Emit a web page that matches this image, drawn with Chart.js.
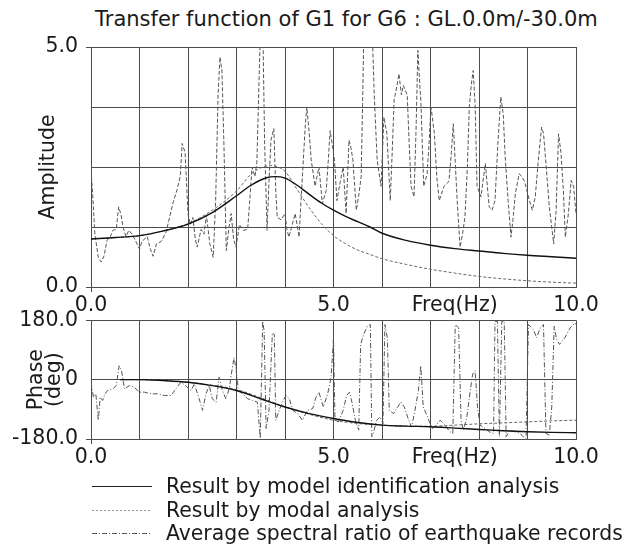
<!DOCTYPE html>
<html>
<head>
<meta charset="utf-8">
<script src="https://cdn.jsdelivr.net/npm/chart.js@4.4.1/dist/chart.umd.min.js"></script>
<style>
  html, body { margin: 0; padding: 0; background: #fff; }
  body { width: 626px; height: 549px; position: relative; overflow: hidden; font-family: "DejaVu Sans", sans-serif; color: #1a1a1a; }
  #title { position: absolute; left: 95px; top: 5px; font-size: 21px; line-height: 28px; white-space: nowrap; }
  #c1 { position: absolute; left: 0; top: 0; }
  #c2 { position: absolute; left: 0; top: 300px; }
  .leg { position: absolute; left: 92px; font-size: 20.4px; line-height: 22px; white-space: nowrap; }
  .leg svg { position: absolute; left: 0; top: 0; }
  .leg span { position: absolute; left: 74px; top: 0; }
</style>
</head>
<body>
<div id="title">Transfer function of G1 for G6 : GL.0.0m/-30.0m</div>
<canvas id="c1" width="626" height="316"></canvas>
<canvas id="c2" width="626" height="170"></canvas>
<div class="leg" style="top:475px;"><svg width="62" height="22"><line x1="0" y1="11.5" x2="60" y2="11.5" stroke="#222" stroke-width="1.2"/></svg><span>Result by model identification analysis</span></div>
<div class="leg" style="top:499px;"><svg width="62" height="22"><line x1="0" y1="11.5" x2="60" y2="11.5" stroke="#999" stroke-width="1" stroke-dasharray="2,2"/></svg><span>Result by modal analysis</span></div>
<div class="leg" style="top:522px;"><svg width="62" height="22"><line x1="0" y1="11.5" x2="60" y2="11.5" stroke="#555" stroke-width="1" stroke-dasharray="5,2,1,2"/></svg><span>Average spectral ratio of earthquake records</span></div>
<script>
// ---------- data ----------
const seriesNames = ["Result by model identification analysis", "Result by modal analysis", "Average spectral ratio of earthquake records"];

// Amplitude panel
const idAmpFreq = [0, 0.5, 1.0, 1.5, 2.0, 2.5, 3.0, 3.3, 3.6, 3.8, 4.0, 4.25, 4.5, 4.75, 5.0, 5.25, 5.5, 5.75, 6.0, 6.5, 7.0, 7.5, 8.0, 8.5, 9.0, 9.5, 10.0];
const idAmp     = [1.0, 1.03, 1.07, 1.17, 1.31, 1.55, 1.9, 2.12, 2.27, 2.3, 2.27, 2.12, 1.93, 1.75, 1.6, 1.47, 1.36, 1.25, 1.12, 0.97, 0.87, 0.8, 0.75, 0.7, 0.66, 0.63, 0.6];

const modalAmpFreq = [0, 0.5, 1.0, 1.5, 2.0, 2.5, 3.0, 3.3, 3.5, 3.7, 3.85, 4.0, 4.25, 4.5, 4.75, 5.0, 5.25, 5.5, 5.75, 6.0, 6.5, 7.0, 7.5, 8.0, 8.5, 9.0, 9.5, 10.0];
const modalAmp     = [1.0, 1.03, 1.07, 1.17, 1.32, 1.6, 2.0, 2.35, 2.48, 2.53, 2.5, 2.41, 2.03, 1.65, 1.32, 1.07, 0.9, 0.77, 0.68, 0.59, 0.47, 0.37, 0.29, 0.22, 0.17, 0.13, 0.1, 0.08];

const eqAmpFreq = [0.00,0.03,0.08,0.15,0.21,0.27,0.33,0.40,0.45,0.52,0.57,0.62,0.66,0.72,0.78,0.85,0.91,1.00,1.05,1.16,1.22,1.28,1.35,1.45,1.55,1.62,1.69,1.77,1.84,1.88,1.94,2.00,2.05,2.10,2.15,2.19,2.27,2.33,2.38,2.45,2.52,2.57,2.62,2.66,2.70,2.74,2.79,2.84,2.89,2.94,2.99,3.06,3.14,3.23,3.28,3.32,3.38,3.42,3.47,3.50,3.54,3.58,3.63,3.67,3.71,3.77,3.81,3.84,3.92,4.00,4.04,4.08,4.15,4.21,4.29,4.33,4.37,4.42,4.45,4.50,4.54,4.62,4.70,4.77,4.85,4.89,4.93,4.97,5.02,5.07,5.14,5.20,5.26,5.32,5.36,5.40,5.47,5.52,5.57,5.60,5.63,5.72,5.79,5.84,5.90,5.98,6.04,6.10,6.17,6.21,6.25,6.31,6.35,6.40,6.44,6.48,6.52,6.56,6.60,6.66,6.70,6.74,6.78,6.80,6.86,6.93,6.97,7.01,7.08,7.13,7.18,7.28,7.38,7.43,7.47,7.51,7.55,7.61,7.66,7.71,7.76,7.80,7.84,7.88,7.92,7.96,8.04,8.13,8.21,8.27,8.33,8.39,8.45,8.50,8.54,8.60,8.66,8.70,8.75,8.83,8.88,8.94,9.04,9.10,9.16,9.22,9.29,9.33,9.37,9.45,9.54,9.59,9.64,9.69,9.74,9.78,9.84,9.90,9.95,10.00];
const eqAmp     = [2.43,2.0,1.1,0.62,0.52,0.65,0.97,1.05,1.18,1.2,1.67,1.5,1.25,1.05,1.18,1.1,0.98,0.79,0.95,1.05,0.8,0.64,0.9,0.95,1.15,1.45,1.75,2.01,2.3,2.99,2.8,1.53,1.3,1.45,1.0,0.83,1.2,1.1,1.5,0.9,0.62,1.8,4.0,4.79,4.5,3.0,0.76,1.2,1.53,1.0,0.83,1.3,1.18,1.2,1.9,2.5,2.3,2.6,4.5,5.6,5.6,3.0,1.18,2.2,3.06,3.3,2.0,1.45,1.4,1.53,1.2,1.04,1.3,1.53,1.04,1.8,2.5,3.4,3.75,3.2,2.65,2.1,2.5,1.74,2.01,2.6,3.26,3.0,2.65,1.8,2.2,2.5,1.53,3.06,2.9,2.65,1.6,1.9,2.3,3.8,5.6,5.6,5.6,4.0,2.65,2.1,3.54,3.2,1.8,2.8,3.9,4.2,4.44,4.0,4.2,4.1,4.0,3.0,2.1,1.88,3.2,4.93,4.2,3.9,2.1,2.35,3.0,3.75,3.2,2.3,1.8,2.1,2.2,2.8,3.4,2.6,1.8,0.83,1.1,1.45,2.5,3.75,4.2,4.51,3.8,2.1,1.88,2.57,1.67,1.6,1.8,3.0,3.96,3.6,2.71,1.8,1.04,1.4,1.95,2.36,2.3,2.2,1.8,1.6,1.88,2.6,3.33,3.2,2.71,1.67,0.9,1.6,3.19,2.8,2.0,1.04,1.5,2.22,2.1,1.53];

// Phase panel
const idPhFreq = [0.6, 1.0, 1.5, 2.0, 2.5, 3.0, 3.5, 4.0, 4.5, 5.0, 5.5, 6.0, 6.5, 7.0, 7.5, 8.0, 8.5, 9.0, 9.5, 10.0];
const idPh     = [0, 0, -3, -8, -18, -33, -58, -83, -103, -118, -130, -138, -141, -143, -147, -151, -155, -158, -160, -161];

const modalPhFreq = [0.6, 1.0, 1.5, 2.0, 2.5, 3.0, 3.5, 4.0, 4.5, 5.0, 5.5, 6.0, 6.5, 7.0, 7.5, 8.0, 8.5, 9.0, 9.5, 10.0];
const modalPh     = [0, 0, -3, -8, -17, -30, -55, -82, -105, -123, -133, -138, -141, -141, -138, -134, -131, -128, -125, -123];

const eqPhFreq = [0.00,0.05,0.10,0.15,0.19,0.24,0.29,0.34,0.45,0.52,0.58,0.63,0.69,0.79,0.89,1.00,1.10,1.24,1.37,1.51,1.65,1.75,1.85,1.95,2.06,2.13,2.23,2.30,2.37,2.44,2.50,2.58,2.64,2.71,2.78,2.85,2.92,2.95,2.99,3.04,3.13,3.23,3.33,3.43,3.49,3.54,3.57,3.61,3.67,3.74,3.78,3.81,3.88,3.95,4.02,4.09,4.16,4.26,4.36,4.46,4.57,4.64,4.70,4.79,4.88,4.95,5.00,5.03,5.10,5.20,5.27,5.33,5.38,5.45,5.52,5.56,5.62,5.70,5.76,5.79,5.82,5.89,5.96,6.02,6.06,6.11,6.15,6.24,6.30,6.39,6.46,6.55,6.61,6.68,6.75,6.80,6.85,6.94,7.03,7.09,7.20,7.30,7.40,7.46,7.51,7.58,7.63,7.68,7.75,7.82,7.87,7.92,7.97,8.02,8.13,8.21,8.30,8.33,8.38,8.42,8.47,8.52,8.56,8.64,8.74,8.85,8.91,8.97,9.02,9.12,9.19,9.26,9.33,9.38,9.45,9.50,9.55,9.60,9.66,9.77,9.88,9.98,10.00];
const eqPh     = [-8,-53,-43,-123,-53,-63,-43,-33,-28,-18,42,27,-28,-18,-23,-38,-38,-43,-43,-48,-48,-28,-8,-18,-33,-13,-58,-93,-43,-18,-58,-68,7,-33,-58,-28,42,67,32,-33,-43,-58,-63,-68,-178,177,147,-148,-93,142,137,-123,-93,-68,-48,-58,-93,-103,-123,-93,-88,-53,-38,-83,-43,7,127,-123,-128,-93,-48,-38,-68,-123,-153,107,137,162,167,-173,-163,-123,-113,-133,167,127,-93,-103,-88,-68,-83,-123,-143,-93,-33,42,-83,-113,-148,-143,-123,-138,-158,-163,167,157,-123,-153,-113,-33,17,27,-83,-138,-148,-158,-163,177,177,-173,177,177,-173,-153,-158,-163,-173,-178,167,152,127,157,167,-163,-168,-83,162,122,107,127,157,172,167];

// Axis tick labels
const freqTickLabels = { 0: "0.0", 5: "5.0", 10: "10.0", 7.5: "Freq(Hz)" };
const ampTickLabels = { 0: "0.0", 5: "5.0" };
const phaseTickLabels = { 180: "180.0", 0: "0", "-180": "-180.0" };

// ---------- helpers ----------
const pts = (xs, ys) => xs.map((x, i) => ({ x, y: ys[i] }));
const FONT = { family: "'DejaVu Sans', sans-serif", size: 20.5 };
const GRID = "#4d4d4d";

function freqAxis(height) {
  return {
    type: "linear", min: 0, max: 10,
    afterBuildTicks: s => {
      const t = [];
      for (let v = 0; v <= 10; v++) t.push({ value: v });
      t.push({ value: 7.5 });
      t.sort((a, b) => a.value - b.value);
      s.ticks = t;
    },
    afterFit: s => { s.height = height; },
    ticks: {
      autoSkip: false, maxRotation: 0, minRotation: 0, padding: 1,
      color: "#1a1a1a", font: FONT,
      callback: v => (freqTickLabels[v] !== undefined ? freqTickLabels[v] : "")
    },
    grid: {
      color: c => (c.tick && Number.isInteger(c.tick.value) ? GRID : "rgba(0,0,0,0)"),
      tickColor: c => (c.tick && c.tick.value === 0 ? GRID : "rgba(0,0,0,0)"),
      tickLength: 5, lineWidth: 1
    },
    border: { display: true, color: GRID, width: 1 }
  };
}

function ds(data, color, width, dash, order, smooth) {
  return {
    data, borderColor: color, borderWidth: width, borderDash: dash,
    pointRadius: 0, fill: false, order,
    tension: 0, cubicInterpolationMode: smooth ? "monotone" : "default"
  };
}

const common = {
  responsive: false, animation: false, devicePixelRatio: 1,
  plugins: { legend: { display: false }, tooltip: { enabled: false }, title: { display: false } },
  parsing: true
};

// ---------- amplitude chart ----------
new Chart(document.getElementById("c1"), {
  type: "line",
  data: {
    datasets: [
      Object.assign(ds(pts(idAmpFreq, idAmp), "#111", 1.4, [], 0, true), { label: seriesNames[0] }),
      Object.assign(ds(pts(modalAmpFreq, modalAmp), "#666", 1, [3, 2], 1, true), { label: seriesNames[1] }),
      Object.assign(ds(pts(eqAmpFreq, eqAmp), "#555", 1, [4, 2], 2, false), { label: seriesNames[2] })
    ]
  },
  options: Object.assign({}, common, {
    layout: { padding: { top: 47, right: 50, left: 0, bottom: 0 } },
    scales: {
      x: freqAxis(29),
      y: {
        type: "linear", min: 0, max: 5,
        afterBuildTicks: s => { s.ticks = [0, 1.25, 2.5, 3.75, 5].map(v => ({ value: v })); },
        afterFit: s => { s.width = 91; },
        ticks: {
          padding: 8, color: "#1a1a1a", font: FONT,
          callback: v => (ampTickLabels[v] !== undefined ? ampTickLabels[v] : "")
        },
        grid: {
          color: GRID, lineWidth: 1, tickLength: 5,
          tickColor: c => (c.tick && (c.tick.value === 0 || c.tick.value === 5) ? GRID : "rgba(0,0,0,0)")
        },
        border: { display: true, color: GRID },
        title: { display: true, text: "Amplitude", color: "#1a1a1a", font: FONT, padding: { top: 36, bottom: 0 } }
      }
    }
  })
});

// ---------- phase chart ----------
new Chart(document.getElementById("c2"), {
  type: "line",
  data: {
    datasets: [
      Object.assign(ds(pts(idPhFreq, idPh), "#111", 1.4, [], 0, true), { label: seriesNames[0] }),
      Object.assign(ds(pts(modalPhFreq, modalPh), "#666", 1, [3, 2], 1, true), { label: seriesNames[1] }),
      Object.assign(ds(pts(eqPhFreq, eqPh), "#555", 1, [5, 2, 1, 2], 2, false), { label: seriesNames[2] })
    ]
  },
  options: Object.assign({}, common, {
    layout: { padding: { top: 18, right: 50, left: 0, bottom: 0 } },
    scales: {
      x: freqAxis(31),
      y: {
        type: "linear", min: -180, max: 180,
        afterBuildTicks: s => { s.ticks = [-180, 0, 180].map(v => ({ value: v })); },
        afterFit: s => { s.width = 91; },
        ticks: {
          padding: 8, color: "#1a1a1a", font: FONT,
          callback: v => (phaseTickLabels[v] !== undefined ? phaseTickLabels[v] : "")
        },
        grid: {
          color: GRID, lineWidth: 1, tickLength: 5,
          tickColor: c => (c.tick && c.tick.value !== 0 ? GRID : "rgba(0,0,0,0)")
        },
        border: { display: true, color: GRID },
        title: { display: true, text: ["Phase", "(deg)"], color: "#1a1a1a", font: Object.assign({}, FONT, { lineHeight: 0.9 }), padding: { top: 27, bottom: 0 } }
      }
    }
  })
});
</script>
</body>
</html>
